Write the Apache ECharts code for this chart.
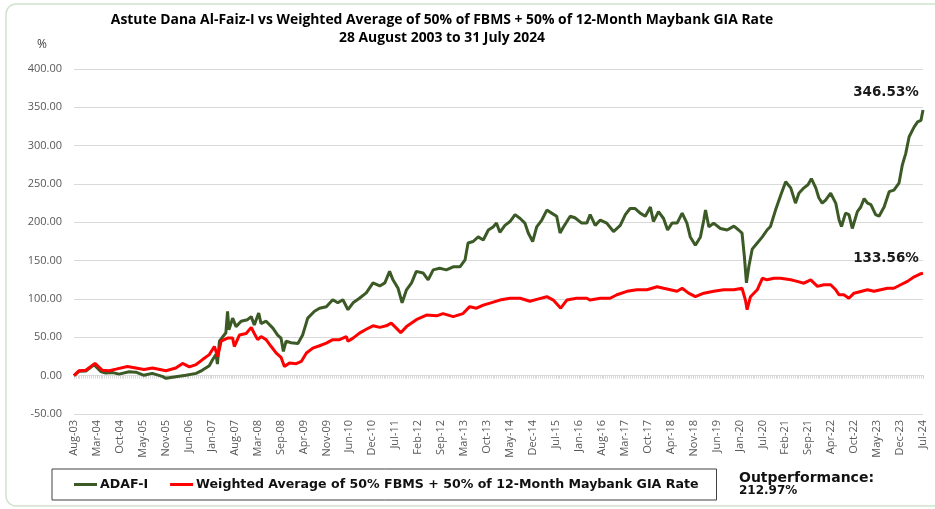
<!DOCTYPE html>
<html lang="en">
<head>
<meta charset="utf-8">
<title>ADAF-I vs Weighted Average</title>
<script src="https://cdn.jsdelivr.net/npm/echarts@6/dist/echarts.min.js"></script>
<style>
  html, body { margin: 0; padding: 0; background: #fff; }
  #chart { width: 935px; height: 509px; }
</style>
</head>
<body>
<div id="chart"></div>
<script>
// x values are months since Aug-03 (0 = Aug-03, 251 = Jul-24)
var tickLabels = ['Aug-03','Mar-04','Oct-04','May-05','Nov-05','Jun-06','Jan-07','Aug-07','Mar-08','Sep-08',
    'Apr-09','Nov-09','Jun-10','Dec-10','Jul-11','Feb-12','Sep-12','Mar-13','Oct-13','May-14','Dec-14',
    'Jul-15','Jan-16','Aug-16','Mar-17','Oct-17','Apr-18','Nov-18','Jun-19','Jan-20','Jul-20','Feb-21',
    'Sep-21','Apr-22','Oct-22','May-23','Dec-23','Jul-24'];

var seriesNames = ['ADAF-I', 'Weighted Average of 50% FBMS + 50% of 12-Month Maybank GIA Rate'];

var adafData = [[0,0],[1.5,5.6],[3.5,6],[5.9,14.3],[7.9,5.5],[9.4,3.5],[11.5,4],[13.3,2],[16.3,5],[18.3,4.5],
    [20.7,0.5],[23.1,3],[26.1,-1],[27.2,-3.5],[30.1,-1.5],[33.1,0.5],[36.1,3],[37.9,7],[40,13],[41,21],
    [42,28],[42.4,15],[43,45],[44.9,56],[45.4,84],[45.8,60],[46.9,75],[47.9,64],[49.4,71],[51.3,73],
    [52.4,77],[53.3,66],[54.6,81.6],[55.3,68],[56.8,71],[58.8,62],[60.2,53],[61.2,49],[61.9,31.6],[62.7,45],
    [64.2,43],[66.2,42],[66.7,40],[67.6,53],[69.1,75],[71.1,84],[72.6,88],[74.6,90],[76.5,99],[78,95],
    [79.5,99],[81,86],[82.5,95],[84.4,101],[86.4,108],[88.4,121],[90.4,117],[91.9,121],[93.3,136],[94.3,125],
    [95.8,114],[96.3,116],[97,95],[98.3,112],[99.8,121],[101.2,136],[103.2,134],[104.7,125],[106.2,138],[108.1,140],
    [110.1,138],[112.1,142],[114.1,142],[115.6,151],[116.5,173],[118,175],[119.5,181],[121,177],[122.5,190],[123.9,194],
    [124.9,199],[125.9,187],[127.4,196],[128.9,201],[130.4,210],[131.9,205],[133.3,199],[134.3,186],[135.6,175],[136.8,194],
    [138.3,203],[139.8,216],[141.2,212],[142.7,208],[143.7,186],[144.7,194],[146.7,208],[148.1,206],[150.1,199],[151.6,199],
    [152.6,210],[154.1,196],[155.6,203],[157.5,199],[159.5,188],[161.5,196],[163,210],[164.4,218],[165.9,218],[167.4,212],
    [168.9,208],[170.4,220],[171.3,201],[172.8,214],[174.3,205],[175.5,190],[176.8,199],[178.3,199],[179.8,212],[181.2,199],
    [182.2,181],[183.7,170],[185.2,181],[186.2,203],[186.7,216],[187.7,194],[189.1,199],[191.1,192],[193.1,190],[195.1,195],
    [196.5,190],[197.5,186],[198.2,155],[198.8,121],[199.5,142],[200.5,165],[202,173],[203.5,181],[204.9,190],[205.9,194.5],
    [207.4,216],[208.9,235],[210.4,253],[211.9,245],[213.3,225],[214.3,238],[215.8,245],[217,249],[218,257],[219.3,245],
    [220.2,232],[221.2,225],[222.2,229],[223.7,238],[225.2,225],[226.2,203],[226.9,194.5],[228.1,212],[229.1,210],[230.1,192],
    [231.6,214],[232.6,220],[233.6,231],[234.6,225],[235.6,223],[237,210],[238,208],[239.5,220],[241,240],[242.4,242],
    [243.9,251],[244.9,275],[245.9,290],[246.9,311.6],[248.4,324.6],[249.4,331],[250.4,333],[251,346.53]];

var benchData = [[0,0],[1.5,6.5],[3.5,7],[6.2,16],[8.4,7],[10.4,6.5],[12.4,8.5],[15.8,12],[18.3,10],[20.7,8],
    [23.2,10],[27.2,6.5],[30.1,10],[32.1,16],[34.1,11.5],[36.1,14.5],[38,21],[40,27.5],[41.5,38],[42.5,25],
    [43.5,45],[45.4,49],[46.9,49],[47.4,38],[48.9,53],[50.9,55],[52.4,63],[53.3,55],[54.3,47],[55.3,51],
    [56.8,47],[58.3,38],[59.8,29.5],[61.2,24],[62.2,12],[63.7,16.5],[65.7,15.6],[67.2,18.5],[68.7,29.5],[70.6,36],
    [72.6,39],[74.6,42.5],[76.5,47],[78.5,47],[80.5,51],[81,45],[82.5,49],[84.4,55.5],[86.4,60.5],[88.4,65],
    [90.4,63],[92.3,65],[93.8,68.6],[95.3,62],[96.6,56],[98.3,64],[101.2,73],[104.2,79],[107.2,78],[109.1,81],
    [112.1,77],[115,81],[117,90],[119,88],[121,92],[123,94.6],[125.9,98.6],[128.9,101],[131.9,101],[134.8,97],
    [136.8,99.5],[139.8,103],[141.7,98.6],[143.9,88],[145.7,98.6],[148.6,101],[151.6,101],[152.6,98.6],[155.6,101],[158.5,101],
    [160.5,105.5],[163.5,110],[166.4,112],[169.4,112],[172.4,116],[174.3,114],[176.3,112],[178.3,110],[179.8,114],[181.7,107.6],
    [183.7,103],[186.2,107.6],[189.1,110],[192.1,112],[195.1,112],[197.5,114],[198.5,98.6],[199,86],[200,103],[202,112],
    [203.5,127],[204.9,125],[206.9,127],[208.9,127],[211.9,125],[213.8,123],[215.8,120.6],[217.8,125],[219.8,116.5],[221.7,118.6],
    [223.7,118.6],[225.2,112],[226.2,105.5],[227.6,105.5],[229.1,101],[230.6,107.6],[232.6,109.8],[234.6,112],[236.5,110],[238.5,112],
    [240.5,114],[242.4,114],[244.4,118.6],[246.4,123],[248.4,129],[250.4,133],[251,133.56]];

var lastMonth = 251;
var tickStep = lastMonth / (tickLabels.length - 1);
var adafLast = adafData[adafData.length - 1];
var benchLast = benchData[benchData.length - 1];
var outperf = (adafLast[1] - benchLast[1]).toFixed(2);

var chart = echarts.init(document.getElementById('chart'));

function endMark(pt, dy) {
    return {
        symbol: 'circle',
        symbolSize: 0,
        data: [{ coord: pt, value: pt[1].toFixed(2) + '%' }],
        label: {
            show: true,
            formatter: '{c}',
            offset: [-37, dy],
            fontFamily: 'DejaVu Sans',
            fontSize: 13.5,
            fontWeight: 'bold',
            color: '#1a1a1a'
        }
    };
}

chart.setOption({
    animation: false,
    textStyle: { fontFamily: 'Open Sans' },
    grid: { left: 74, right: 12, top: 69, bottom: 95 },
    legend: {
        left: 52,
        top: 469,
        data: seriesNames,
        icon: 'rect',
        itemWidth: 23,
        itemHeight: 3,
        itemGap: 22,
        padding: [9, 18, 9, 22],
        borderColor: '#404040',
        borderWidth: 1,
        textStyle: { fontFamily: 'DejaVu Sans', fontSize: 12.6, fontWeight: 'bold', color: '#111', padding: [0, 0, 0, -2] }
    },
    xAxis: [
        {
            type: 'value',
            min: 0,
            max: lastMonth,
            interval: tickStep,
            axisLine: { show: false, onZero: false },
            axisTick: { show: false },
            splitLine: { show: false },
            axisLabel: {
                rotate: 90,
                fontSize: 11,
                color: '#595959',
                margin: 6,
                formatter: function (v) { return tickLabels[Math.round(v / tickStep)] || ''; }
            }
        },
        {
            // hatched zero line
            type: 'value',
            min: 0,
            max: lastMonth,
            interval: tickStep,
            position: 'bottom',
            axisLine: { onZero: true, lineStyle: { color: '#d9d9d9', width: 1 } },
            axisTick: { show: true, length: 3, lineStyle: { color: '#d0d0d0' } },
            minorTick: { show: true, splitNumber: 12, length: 3, lineStyle: { color: '#d9d9d9' } },
            axisLabel: { show: false },
            splitLine: { show: false }
        }
    ],
    yAxis: {
        type: 'value',
        min: -50,
        max: 400,
        interval: 50,
        axisLine: { show: false },
        axisTick: { show: false },
        splitLine: { lineStyle: { color: '#d9d9d9' } },
        axisLabel: {
            fontSize: 11,
            color: '#595959',
            margin: 12,
            formatter: function (v) { return v.toFixed(2); }
        }
    },
    series: [
        {
            name: seriesNames[0],
            type: 'line',
            xAxisIndex: 0,
            data: adafData,
            symbol: 'none',
            lineStyle: { color: '#3b5a26', width: 3 },
            itemStyle: { color: '#3b5a26' },
            markPoint: endMark(adafLast, -17),
            z: 3
        },
        {
            name: seriesNames[1],
            type: 'line',
            xAxisIndex: 0,
            data: benchData,
            symbol: 'none',
            lineStyle: { color: '#ff0000', width: 3 },
            itemStyle: { color: '#ff0000' },
            markPoint: endMark(benchLast, -15),
            z: 4
        }
    ],
    graphic: [
        {
            type: 'rect',
            shape: { x: 6, y: 4, width: 940, height: 502, r: 10 },
            style: { fill: 'none', stroke: '#cfe4cb', lineWidth: 1.5 },
            silent: true
        },
        {
            type: 'text',
            x: 442, y: 11,
            style: {
                text: 'Astute Dana Al-Faiz-I vs Weighted Average of 50% of FBMS + 50% of 12-Month Maybank GIA Rate\n28 August 2003 to 31 July 2024',
                align: 'center',
                font: 'bold 13.9px "Open Sans"',
                lineHeight: 18,
                fill: '#000'
            }
        },
        {
            type: 'text',
            x: 37, y: 39,
            style: { text: '%', font: '12px "Open Sans"', fill: '#404040' }
        },
        {
            type: 'text',
            x: 739, y: 478.5,
            style: {
                text: 'Outperformance:',
                verticalAlign: 'middle',
                font: 'bold 14px "DejaVu Sans"',
                fill: '#111'
            }
        },
        {
            type: 'text',
            x: 739, y: 490.5,
            style: {
                text: outperf + '%',
                verticalAlign: 'middle',
                font: 'bold 12px "DejaVu Sans"',
                fill: '#111'
            }
        }
    ]
});
</script>
</body>
</html>
